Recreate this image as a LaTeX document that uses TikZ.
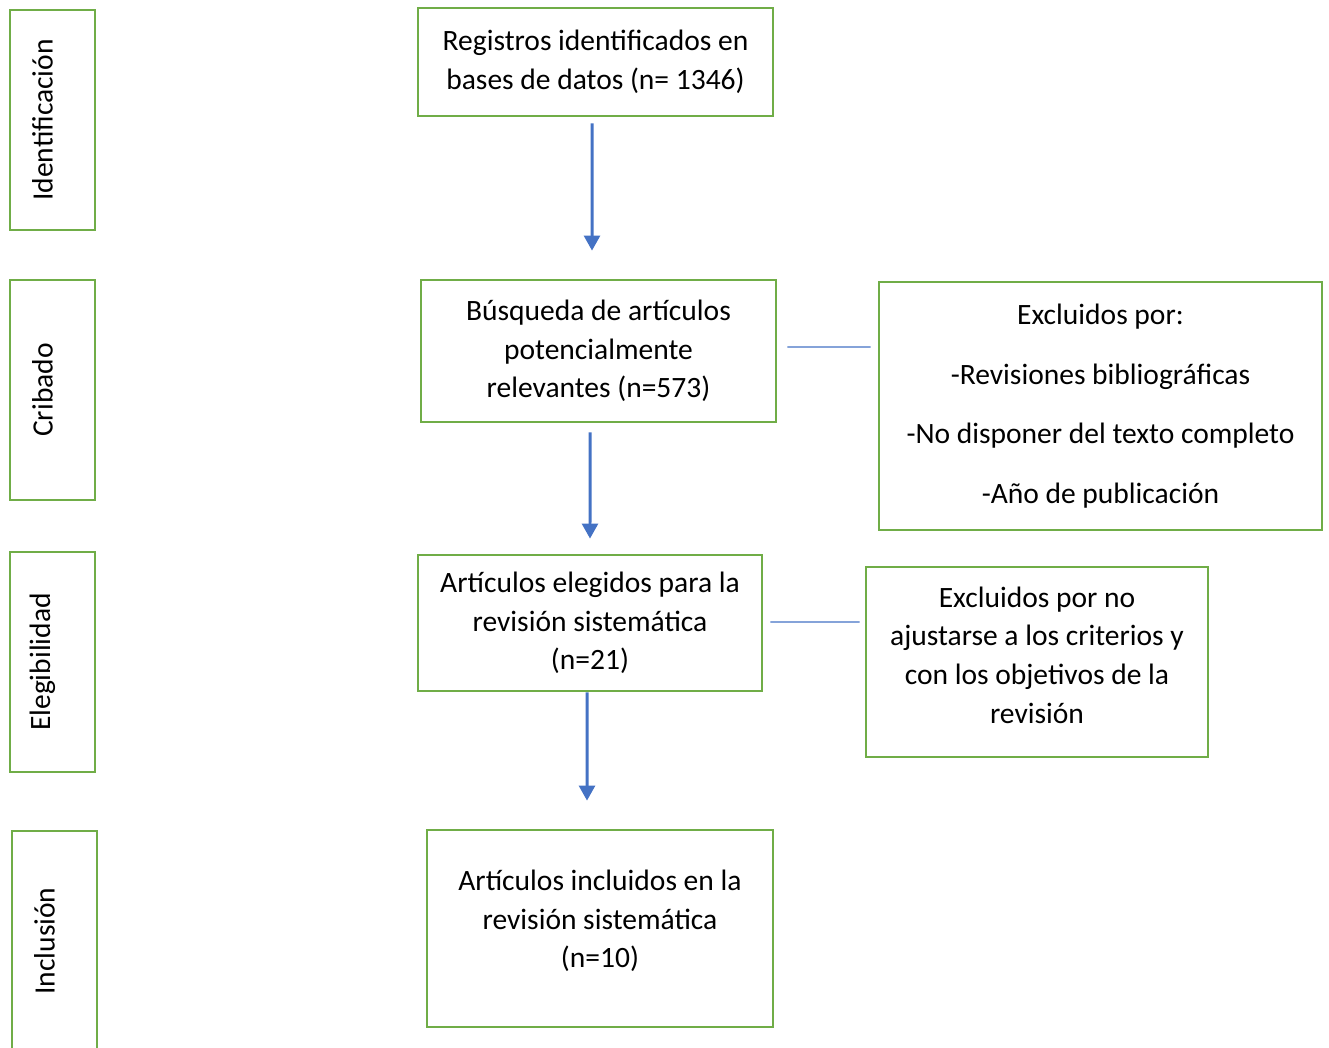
\documentclass[tikz,border=0pt]{standalone}
\usepackage{fontspec}
\setmainfont{Carlito}
\usetikzlibrary{arrows.meta}
\definecolor{boxgreen}{HTML}{70AD47}
\definecolor{flowblue}{HTML}{4472C4}
\tikzset{
  box/.style={draw=boxgreen, line width=1.6pt, align=center, inner sep=0pt,
    font=\fontsize{16.8}{22}\selectfont},
  sidebox/.style={draw=boxgreen, line width=1.6pt, minimum width=1.7cm, minimum height=4.4cm},
  sidelabel/.style={rotate=90, yshift=0.2cm, font=\fontsize{16.8}{22}\selectfont},
  flow/.style={-{Triangle[width=9pt, length=8.5pt]}, flowblue, line width=1.7pt},
  link/.style={flowblue, line width=0.8pt}
}
\begin{document}
\begin{tikzpicture}[x=0.02cm, y=-0.02cm]
  \clip (0,0) rectangle (1329,1048);

  % Phase boxes on the left
  \node[sidebox, label={[sidelabel]center:Identificación}] (idbox) at (52.5,120) {};
  \node[sidebox, label={[sidelabel]center:Cribado}] (cribbox) at (52.5,390) {};
  \node[sidebox, label={[sidelabel]center:Elegibilidad}] (elegbox) at (52.5,662) {};
  \node[sidebox, label={[sidelabel]center:Inclusión}] (inclbox) at (54.5,941) {};

  % Main flow
  \node[box, minimum width=7.1cm, minimum height=2.16cm] (reg) at (595.5,62)
    {Registros identificados en\\bases de datos (n= 1346)};
  \node[box, minimum width=7.1cm, minimum height=2.84cm] (busq) at (598.5,351)
    {Búsqueda de artículos\\potencialmente\\relevantes (n=573)};
  \node[box, minimum width=6.88cm, minimum height=2.72cm] (eleg) at (590,623)
    {Artículos elegidos para la\\revisión sistemática\\(n=21)};
  \node[box, minimum width=6.92cm, minimum height=3.94cm, text depth=11pt] (incl) at (600,928.5)
    {Artículos incluidos en la\\revisión sistemática\\(n=10)};

  % Exclusions
  \node[box, minimum width=8.86cm, minimum height=4.96cm, font=\fontsize{16.8}{34}\selectfont] (excl1) at (1100.5,406)
    {Excluidos por:\\-Revisiones bibliográficas\\-No disponer del texto completo\\-Año de publicación};
  \node[box, minimum width=6.84cm, minimum height=3.8cm, text depth=8pt] (excl2) at (1037,662)
    {Excluidos por no\\ajustarse a los criterios y\\con los objetivos de la\\revisión};

  % Arrows
  \draw[flow] ([xshift=-0.07cm, yshift=-0.12cm]reg.south) -- ([xshift=-0.13cm, yshift=0.56cm]busq.north);
  \draw[flow] ([xshift=-0.17cm, yshift=-0.18cm]busq.south) -- ([yshift=0.3cm]eleg.north);
  \draw[flow] ([xshift=-0.06cm]eleg.south) -- ([xshift=-0.26cm, yshift=0.56cm]incl.north);

  % Side links
  \draw[link] ([xshift=0.2cm, yshift=0.08cm]busq.east) -- ([xshift=-0.14cm, yshift=1.18cm]excl1.west);
  \draw[link] ([xshift=0.14cm, yshift=0.02cm]eleg.east) -- ([xshift=-0.1cm, yshift=0.8cm]excl2.west);
\end{tikzpicture}
\end{document}
